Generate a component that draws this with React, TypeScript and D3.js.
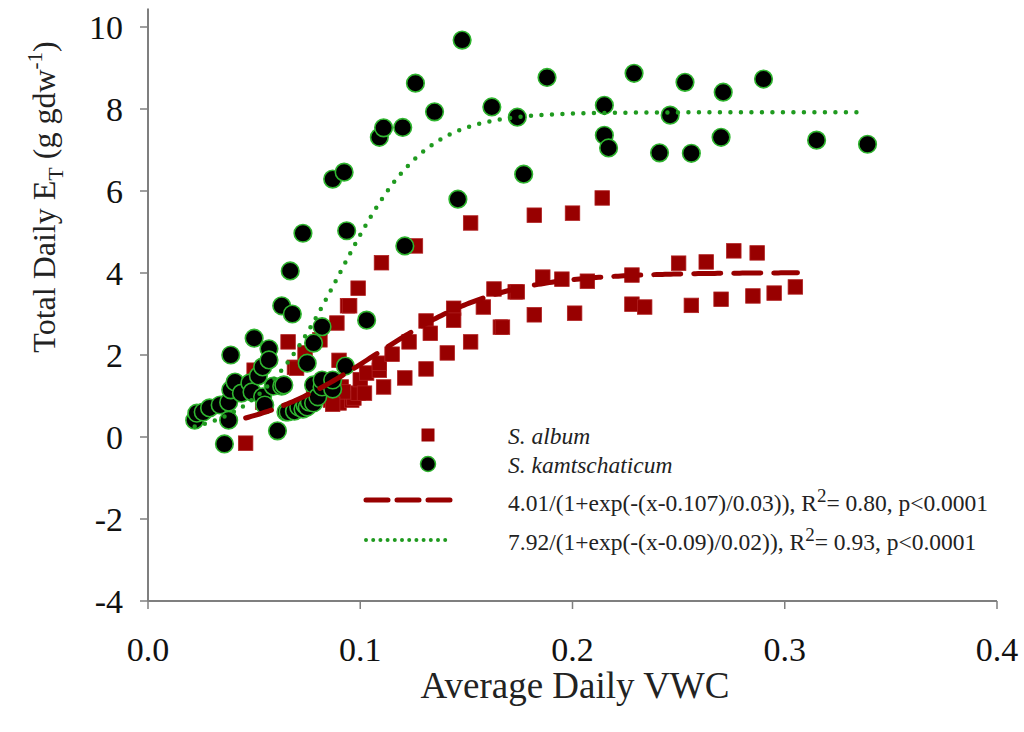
import React from "react";
import * as d3 from "d3";

// ---------- data ----------
const xTicks = [0, 0.1, 0.2, 0.3, 0.4];
const yTicks = [-4, -2, 0, 2, 4, 6, 8, 10];

// S. album (red squares)
const albumX = [
  0.046, 0.050, 0.054, 0.066, 0.069, 0.070, 0.074, 0.081, 0.083, 0.086, 0.089, 0.090, 0.090, 0.091,
  0.094, 0.095, 0.096, 0.097, 0.099, 0.099, 0.100, 0.102, 0.103, 0.109, 0.109, 0.110, 0.111, 0.115,
  0.121, 0.123, 0.126, 0.131, 0.131, 0.133, 0.141, 0.144, 0.144, 0.152, 0.152, 0.158, 0.163, 0.166,
  0.167, 0.173, 0.174, 0.182, 0.182, 0.186, 0.195, 0.200, 0.201, 0.207, 0.214, 0.228, 0.228, 0.234,
  0.250, 0.256, 0.263, 0.270, 0.276, 0.285, 0.287, 0.295, 0.305, 0.092, 0.087, 0.078,
];
const albumY = [
  -0.15, 1.63, 0.85, 2.32, 1.70, 1.68, 2.05, 2.37, 1.02, 0.90, 2.78, 1.87, 0.83, 1.22,
  3.20, 3.20, 0.90, 0.95, 3.63, 1.07, 1.40, 1.07, 1.56, 1.63, 1.80, 4.25, 1.22, 2.02,
  1.44, 2.32, 4.66, 2.83, 1.66, 2.53, 2.05, 3.14, 2.85, 5.22, 2.32, 3.17, 3.61, 2.68,
  2.68, 3.54, 3.54, 5.41, 2.98, 3.90, 3.85, 5.46, 3.02, 3.80, 5.83, 3.95, 3.24, 3.17,
  4.24, 3.21, 4.27, 3.36, 4.54, 3.44, 4.49, 3.51, 3.66, 1.10, 0.80, 1.00,
];

// S. kamtschaticum (green-edged black circles)
const kamX = [
  0.022, 0.023, 0.026, 0.029, 0.034, 0.036, 0.038, 0.038, 0.039, 0.039, 0.041, 0.044, 0.048, 0.049,
  0.050, 0.052, 0.054, 0.054, 0.055, 0.057, 0.057, 0.059, 0.061, 0.063, 0.063, 0.064, 0.065, 0.066,
  0.067, 0.068, 0.069, 0.071, 0.073, 0.073, 0.074, 0.075, 0.075, 0.076, 0.078, 0.078, 0.078, 0.080,
  0.082, 0.082, 0.082, 0.087, 0.087, 0.087, 0.093, 0.0924, 0.0936, 0.103, 0.109, 0.111, 0.120, 0.121,
  0.126, 0.135, 0.146, 0.148, 0.162, 0.174, 0.177, 0.188, 0.215, 0.215, 0.217, 0.229, 0.241, 0.246,
  0.253, 0.256, 0.270, 0.271, 0.290, 0.315, 0.339,
];
const kamY = [
  0.41, 0.58, 0.61, 0.71, 0.78, -0.17, 0.85, 0.41, 2.00, 1.15, 1.34, 1.07, 1.32, 1.10,
  2.41, 1.49, 1.71, 0.98, 0.78, 2.15, 1.88, 1.24, 0.15, 3.20, 1.24, 1.27, 0.61, 0.61,
  4.05, 3.00, 0.63, 0.73, 0.68, 4.97, 0.78, 0.73, 1.80, 0.85, 2.29, 1.27, 0.83, 0.98,
  2.69, 1.22, 1.39, 6.29, 1.17, 1.39, 1.73, 6.46, 5.03, 2.85, 7.31, 7.54, 7.55, 4.66,
  8.63, 7.93, 5.80, 9.68, 8.05, 7.80, 6.41, 8.77, 8.09, 7.36, 7.05, 8.87, 6.93, 7.85,
  8.65, 6.92, 7.31, 8.41, 8.73, 7.24, 7.14,
];

// fitted sigmoid parameters (from legend)
const albumFit = { a: 4.01, x0: 0.107, b: 0.03, from: 0.046, to: 0.306 };
const kamFit = { a: 7.92, x0: 0.09, b: 0.02, from: 0.022, to: 0.338 };

const legendLabels = [
  "S. album",
  "S. kamtschaticum",
  "4.01/(1+exp(-(x-0.107)/0.03)), R",
  "7.92/(1+exp(-(x-0.09)/0.02)), R",
];
const legendTails = ["= 0.80, p<0.0001", "= 0.93, p<0.0001"];

// ---------- styles ----------
const W = 1024;
const H = 732;
const FONT = "'Liberation Serif', 'Times New Roman', serif";
const RED = "#980000";
const GREEN = "#1f9a1f";
const AXIS = "#7f7f7f";

export default function App() {
  const x = d3.scaleLinear().domain([0, 0.4]).range([148, 997]);
  const y = d3.scaleLinear().domain([-4, 10]).range([601, 27]);

  const sig = (f: { a: number; x0: number; b: number }) => (v: number) =>
    f.a / (1 + Math.exp(-(v - f.x0) / f.b));

  const makeCurve = (f: typeof albumFit) => {
    const g = sig(f);
    const pts: [number, number][] = d3
      .range(0, 201)
      .map((i) => f.from + ((f.to - f.from) * i) / 200)
      .map((v) => [x(v), y(g(v))]);
    return d3.line()(pts) || "";
  };

  const albumPath = makeCurve(albumFit);
  const kamPath = makeCurve(kamFit);

  const sq = 14.5;
  const r = 8.8;

  return (
    <svg
      width={W}
      height={H}
      style={{ position: "absolute", left: 0, top: 0, background: "#fff" }}
      fontFamily={FONT}
    >
      <rect width={W} height={H} fill="#fff" />
      {/* axes */}
      <line x1={x(0)} x2={x(0)} y1={y(-4)} y2={y(10.45)} stroke={AXIS} strokeWidth={2} />
      <line x1={x(0)} x2={x(0.4)} y1={y(-4)} y2={y(-4)} stroke={AXIS} strokeWidth={2} />
      {yTicks.map((t) => (
        <g key={"yt" + t}>
          <line x1={x(0) - 8} x2={x(0)} y1={y(t)} y2={y(t)} stroke={AXIS} strokeWidth={1.5} />
          <text x={123} y={y(t) + 12} textAnchor="end" fontSize={34} fill="#111">
            {t}
          </text>
        </g>
      ))}
      {xTicks.map((t) => (
        <g key={"xt" + t}>
          <line x1={x(t)} x2={x(t)} y1={y(-4)} y2={y(-4) + 8} stroke={AXIS} strokeWidth={1.5} />
          <text x={x(t)} y={661} textAnchor="middle" fontSize={34} fill="#111">
            {t.toFixed(1)}
          </text>
        </g>
      ))}
      <text x={575} y={698} textAnchor="middle" fontSize={37} fill="#222">
        Average Daily VWC
      </text>
      <text
        transform={`translate(55,197) rotate(-90)`}
        textAnchor="middle"
        fontSize={32}
        fill="#222"
      >
        Total Daily E
        <tspan fontSize={22} dy={8}>T</tspan>
        <tspan dy={-8}> (g gdw</tspan>
        <tspan fontSize={21} dy={-13}>-1</tspan>
        <tspan dy={13}>)</tspan>
      </text>

      {/* points */}
      {albumX.map((v, i) => (
        <rect
          key={"a" + i}
          x={x(v) - sq / 2}
          y={y(albumY[i]) - sq / 2}
          width={sq}
          height={sq}
          fill={RED}
          stroke="#b02020"
          strokeWidth={0.8}
        />
      ))}
      {kamX.map((v, i) => (
        <circle
          key={"k" + i}
          cx={x(v)}
          cy={y(kamY[i])}
          r={r}
          fill="#000"
          stroke="#2fb52f"
          strokeWidth={1.6}
        />
      ))}

      {/* fits */}
      <path d={albumPath} fill="none" stroke={RED} strokeWidth={5} strokeDasharray="27 13" strokeLinecap="round" />
      <path d={kamPath} fill="none" stroke={GREEN} strokeWidth={4.5} strokeDasharray="0 10.5" strokeLinecap="round" />

      {/* legend */}
      <rect x={428 - 6.5} y={435 - 6.5} width={13} height={13} fill={RED} />
      <circle cx={428} cy={464} r={7.5} fill="#000" stroke="#2fb52f" strokeWidth={1.5} />
      <line x1={366} x2={450} y1={500} y2={500} stroke={RED} strokeWidth={5} strokeDasharray="22 9" strokeLinecap="round" />
      <line x1={366} x2={452} y1={540} y2={540} stroke={GREEN} strokeWidth={4} strokeDasharray="0 7.2" strokeLinecap="round" />
      <text x={508} y={444} fontSize={23.5} fontStyle="italic" fill="#222">{legendLabels[0]}</text>
      <text x={508} y={473} fontSize={23.5} fontStyle="italic" fill="#222">{legendLabels[1]}</text>
      <text x={508} y={511} fontSize={23.5} fill="#222">
        {legendLabels[2]}
        <tspan fontSize={19} dy={-9}>2</tspan>
        <tspan dy={9}>{legendTails[0]}</tspan>
      </text>
      <text x={508} y={550} fontSize={23.5} fill="#222">
        {legendLabels[3]}
        <tspan fontSize={19} dy={-9}>2</tspan>
        <tspan dy={9}>{legendTails[1]}</tspan>
      </text>
    </svg>
  );
}
